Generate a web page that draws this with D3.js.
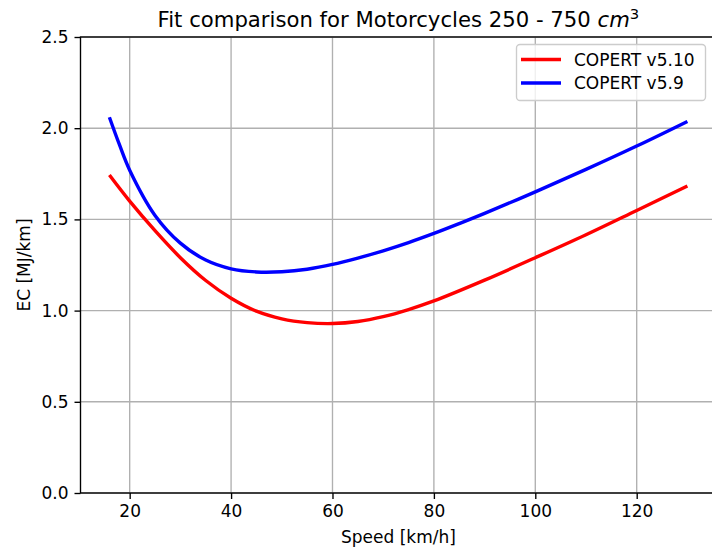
<!DOCTYPE html>
<html>
<head>
<meta charset="utf-8">
<script src="https://cdn.jsdelivr.net/npm/d3@7"></script>
<style>
  html, body { margin: 0; padding: 0; background: #fff; }
  svg { display: block; font-family: "DejaVu Sans", sans-serif; }
</style>
</head>
<body>
<svg id="chart" width="712" height="548"></svg>
<script>
// ---- data ----
const speedsV510 = [16, 20, 25, 30, 35, 40, 45, 50, 55, 60, 65, 70, 75, 80, 90, 100, 110, 120, 130];
const ecV510     = [1.743, 1.600, 1.438, 1.290, 1.165, 1.068, 0.997, 0.955, 0.934, 0.929, 0.940, 0.967, 1.006, 1.053, 1.167, 1.290, 1.416, 1.549, 1.683];

const speedsV59 = [16, 18, 20, 25, 30, 35, 40, 45, 50, 55, 60, 65, 70, 75, 80, 85, 90, 100, 110, 120, 130];
const ecV59     = [2.060, 1.908, 1.770, 1.522, 1.370, 1.277, 1.229, 1.212, 1.213, 1.227, 1.253, 1.288, 1.328, 1.373, 1.423, 1.477, 1.533, 1.651, 1.774, 1.902, 2.037];

const seriesNames = ["COPERT v5.10", "COPERT v5.9"];
const seriesColors = ["#ff0000", "#0000ff"];
const xTicks = [20, 40, 60, 80, 100, 120];
const yTicks = [0.0, 0.5, 1.0, 1.5, 2.0, 2.5];
const titleMain = "Fit comparison for Motorcycles 250 - 750 ";
const xLabel = "Speed [km/h]";
const yLabel = "EC [MJ/km]";

(function () {
  const svg = d3.select("#chart");
  const pL = 80.5, pR = 716.3, pT = 37, pB = 493;
  const x = d3.scaleLinear().domain([10.3, 135.7]).range([pL, pR]);
  const y = d3.scaleLinear().domain([0, 2.5]).range([pB, pT]);
  const fs = 17;

  // grid
  const grid = svg.append("g");
  grid.selectAll("line.gx").data(xTicks).enter().append("line")
    .attr("x1", d => x(d)).attr("x2", d => x(d)).attr("y1", pT).attr("y2", pB)
    .attr("stroke", "#b0b0b0").attr("stroke-width", 1.36);
  grid.selectAll("line.gy").data(yTicks).enter().append("line")
    .attr("x1", pL).attr("x2", pR).attr("y1", d => y(d)).attr("y2", d => y(d))
    .attr("stroke", "#b0b0b0").attr("stroke-width", 1.36);

  // lines
  const data = [
    speedsV510.map((s, i) => [s, ecV510[i]]),
    speedsV59.map((s, i) => [s, ecV59[i]])
  ];
  const line = d3.line().x(d => x(d[0])).y(d => y(d[1])).curve(d3.curveCatmullRom.alpha(0.5));
  svg.append("g").selectAll("path").data(data).enter().append("path")
    .attr("d", line).attr("fill", "none")
    .attr("stroke", (d, i) => seriesColors[i]).attr("stroke-width", 3.4);

  // axes
  const xAxis = d3.axisBottom(x).tickValues(xTicks).tickSize(6).tickPadding(6).tickFormat(d3.format("d"));
  const yAxis = d3.axisLeft(y).tickValues(yTicks).tickSize(6).tickPadding(6).tickFormat(d3.format(".1f"));
  const gx = svg.append("g").attr("transform", `translate(0,${pB})`).call(xAxis);
  const gy = svg.append("g").attr("transform", `translate(${pL},0)`).call(yAxis);
  [gx, gy].forEach(g => {
    g.select(".domain").remove();
    g.selectAll(".tick line").attr("stroke", "#000").attr("stroke-width", 1.36);
    g.selectAll(".tick text").attr("fill", "#000").style("font-size", fs + "px")
      .style("font-family", "DejaVu Sans");
  });

  // spines
  svg.append("rect").attr("x", pL).attr("y", pT).attr("width", pR - pL).attr("height", pB - pT)
    .attr("fill", "none").attr("stroke", "#000").attr("stroke-width", 1.36);

  // labels
  svg.append("text").attr("x", (pL + pR) / 2).attr("y", 543).attr("text-anchor", "middle")
    .style("font-size", fs + "px").text(xLabel);
  svg.append("text").attr("transform", `translate(30,${(pT + pB) / 2}) rotate(-90)`)
    .attr("text-anchor", "middle").style("font-size", fs + "px").text(yLabel);

  // title
  const t = svg.append("text").attr("x", (pL + pR) / 2).attr("y", 27).attr("text-anchor", "middle")
    .style("font-size", "21.2px");
  t.append("tspan").text(titleMain);
  t.append("tspan").style("font-style", "italic").text("cm");
  t.append("tspan").attr("dy", -8.5).style("font-size", "14.8px").text("3");

  // legend
  const lg = svg.append("g");
  lg.append("rect").attr("x", 516.5).attr("y", 44.5).attr("width", 189).attr("height", 56).attr("rx", 3.5)
    .attr("fill", "#fff").attr("fill-opacity", 0.8).attr("stroke", "#cccccc").attr("stroke-width", 1.36);
  seriesNames.forEach((name, i) => {
    const yy = 59.5 + i * 23.5;
    lg.append("line").attr("x1", 521).attr("x2", 561).attr("y1", yy).attr("y2", yy)
      .attr("stroke", seriesColors[i]).attr("stroke-width", 3.4);
    lg.append("text").attr("x", 574).attr("y", yy + 6).style("font-size", fs + "px").text(name);
  });
})();
</script>
</body>
</html>
